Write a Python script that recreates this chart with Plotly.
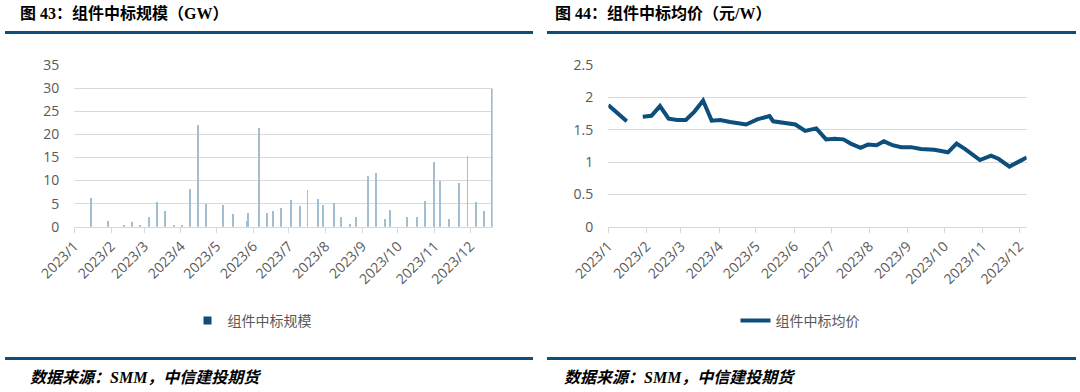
import plotly.graph_objects as go

# ---------------- data ----------------
bar_dates = ["2023-01-15", "2023-01-30", "2023-02-12", "2023-02-19", "2023-02-26",
             "2023-03-05", "2023-03-12", "2023-03-19", "2023-03-26", "2023-04-02",
             "2023-04-09", "2023-04-16", "2023-04-22", "2023-05-07", "2023-05-15",
             "2023-05-27", "2023-05-28", "2023-06-06", "2023-06-13", "2023-06-18",
             "2023-06-25", "2023-07-03", "2023-07-11", "2023-07-17", "2023-07-26",
             "2023-07-30", "2023-08-08", "2023-08-14", "2023-08-22", "2023-08-27",
             "2023-09-06", "2023-09-13", "2023-09-20", "2023-09-25", "2023-10-09",
             "2023-10-17", "2023-10-24", "2023-11-01", "2023-11-06", "2023-11-13",
             "2023-11-22", "2023-11-29", "2023-12-06", "2023-12-13", "2023-12-20"]
bar_values = [6.3, 1.3, 0.2, 1.1, 0.4,
              2.0, 5.3, 3.4, 0.3, 0.4,
              8.2, 22.0, 5.0, 4.8, 2.7,
              1.2, 3.0, 21.4, 2.9, 3.3,
              4.0, 5.8, 4.5, 8.0, 6.1,
              4.8, 5.1, 2.0, 0.6, 2.2,
              11.0, 11.7, 1.7, 3.6, 2.0,
              2.0, 5.5, 14.1, 10.0, 1.7,
              9.5, 15.4, 5.3, 3.5, 29.8]

price_dates = ["2023-01-01", "2023-01-16", "2023-01-22", "2023-01-29", "2023-02-05",
               "2023-02-12", "2023-02-19", "2023-02-26", "2023-03-05", "2023-03-12",
               "2023-03-19", "2023-03-26", "2023-04-02", "2023-04-10", "2023-04-23",
               "2023-05-02", "2023-05-12", "2023-05-15", "2023-05-25", "2023-06-02",
               "2023-06-10", "2023-06-19", "2023-06-27", "2023-07-04", "2023-07-11",
               "2023-07-17", "2023-07-25", "2023-07-31", "2023-08-07", "2023-08-13",
               "2023-08-20", "2023-08-27", "2023-09-04", "2023-09-12", "2023-09-23",
               "2023-10-04", "2023-10-11", "2023-10-18", "2023-10-30", "2023-11-08",
               "2023-11-14", "2023-11-23", "2023-12-01", "2023-12-07"]
price_values = [1.88, 1.63, None, 1.70, 1.715,
                1.865, 1.67, 1.65, 1.65, 1.78,
                1.95, 1.64, 1.65, 1.62, 1.58,
                1.66, 1.71, 1.63, 1.61, 1.58,
                1.48, 1.52, 1.35, 1.36, 1.35,
                1.285, 1.22, 1.27, 1.26, 1.32,
                1.26, 1.23, 1.23, 1.20, 1.19,
                1.15, 1.285, 1.20, 1.03, 1.10,
                1.05, 0.93, 1.01, 1.07]

left_title = "图 43：组件中标规模（GW）"
right_title = "图 44：组件中标均价（元/W）"
bar_name = "组件中标规模"
line_name = "组件中标均价"
source_text = "数据来源：SMM，中信建投期货"

# ---------------- style ----------------
W, H = 1080, 392
BLUE = "#0c4f7c"
GRID = "#d9d9d9"
TXT = "#595959"
TICKFONT = dict(family="Open Sans, Noto Sans CJK SC", size=14, color=TXT)


def px_x(v):
    return v / W


def px_y(v):
    return 1 - v / H


fig = go.Figure()

DAY_MS = 86400000

fig.add_trace(go.Bar(
    x=bar_dates, y=bar_values, name=bar_name,
    marker=dict(color="#a3bdd1", line=dict(width=0)),
    width=DAY_MS * 0.8, xaxis="x", yaxis="y", showlegend=False,
))
# legend entry for the bar series
fig.add_trace(go.Scatter(
    x=[None], y=[None], mode="markers", name=bar_name,
    marker=dict(symbol="square", size=8, color=BLUE),
    xaxis="x", yaxis="y", legend="legend",
))

fig.add_trace(go.Scatter(
    x=price_dates, y=price_values, name=line_name, mode="lines",
    line=dict(color=BLUE, width=4), connectgaps=False,
    xaxis="x2", yaxis="y2", legend="legend2",
))

xcommon = dict(
    type="date", tickformat="%Y/%-m", dtick="M1", tick0="2023-01-01",
    tickangle=-45, ticks="outside", ticklen=5, tickcolor=GRID,
    showline=True, linecolor=GRID, linewidth=1, showgrid=False,
    tickfont=TICKFONT, zeroline=False, automargin=False,
)
ycommon = dict(
    showgrid=True, gridcolor=GRID, gridwidth=1, showline=False,
    zeroline=False, tickfont=TICKFONT, ticks="", ticklabelstandoff=14,
    automargin=False,
)

fig.update_layout(
    template="none",
    width=W, height=H,
    margin=dict(l=0, r=0, t=0, b=0, pad=0),
    paper_bgcolor="white", plot_bgcolor="white",
    bargap=0,
    xaxis=dict(domain=[px_x(74.3), px_x(492.7)],
               range=["2023-01-01", "2023-12-20"], anchor="y", **xcommon),
    yaxis=dict(domain=[px_y(226.7), px_y(65)], range=[0, 35], dtick=5,
               anchor="x", **ycommon),
    xaxis2=dict(domain=[px_x(608.3), px_x(1026.7)],
                range=["2023-01-01", "2023-12-07"], anchor="y2", **xcommon),
    yaxis2=dict(domain=[px_y(226.7), px_y(65)], range=[0, 2.5], dtick=0.5,
                tickformat="~g", anchor="x2", **ycommon),
    legend=dict(x=px_x(252), y=px_y(321), xanchor="center", yanchor="middle",
                orientation="h", font=dict(family="Noto Sans CJK SC", size=14, color=TXT),
                bgcolor="rgba(0,0,0,0)", itemwidth=30),
    legend2=dict(x=px_x(800), y=px_y(321), xanchor="center", yanchor="middle",
                 orientation="h", font=dict(family="Noto Sans CJK SC", size=14, color=TXT),
                 bgcolor="rgba(0,0,0,0)", itemwidth=30),
)

title_font = dict(family="Liberation Serif, Noto Sans CJK SC", size=16, color="#000000")
src_font = dict(family="Liberation Serif, Noto Sans CJK SC", size=16, color="#000000")

annotations = [
    dict(text="<b>" + left_title + "</b>", x=px_x(18), y=px_y(14), xanchor="left",
         yanchor="middle", font=title_font),
    dict(text="<b>" + right_title + "</b>", x=px_x(553), y=px_y(14), xanchor="left",
         yanchor="middle", font=title_font),
    dict(text="<b><i>" + source_text + "</i></b>", x=px_x(28), y=px_y(377),
         xanchor="left", yanchor="middle", font=src_font),
    dict(text="<b><i>" + source_text + "</i></b>", x=px_x(562), y=px_y(377),
         xanchor="left", yanchor="middle", font=src_font),
]
for a in annotations:
    a.update(xref="paper", yref="paper", showarrow=False)
fig.update_layout(annotations=annotations)

shapes = []
for (x0, x1) in [(5, 533), (547, 1076)]:
    for yy in (32.5, 358.5):
        shapes.append(dict(type="line", xref="paper", yref="paper",
                           x0=px_x(x0), x1=px_x(x1), y0=px_y(yy), y1=px_y(yy),
                           line=dict(color=BLUE, width=3)))
fig.update_layout(shapes=shapes)

# remove the browser's default 8px body margin so the figure fills the window
fig.write_html("out.html",
               config={"displayModeBar": False},
               post_script="document.body.style.margin='0';document.body.style.overflow='hidden';")
